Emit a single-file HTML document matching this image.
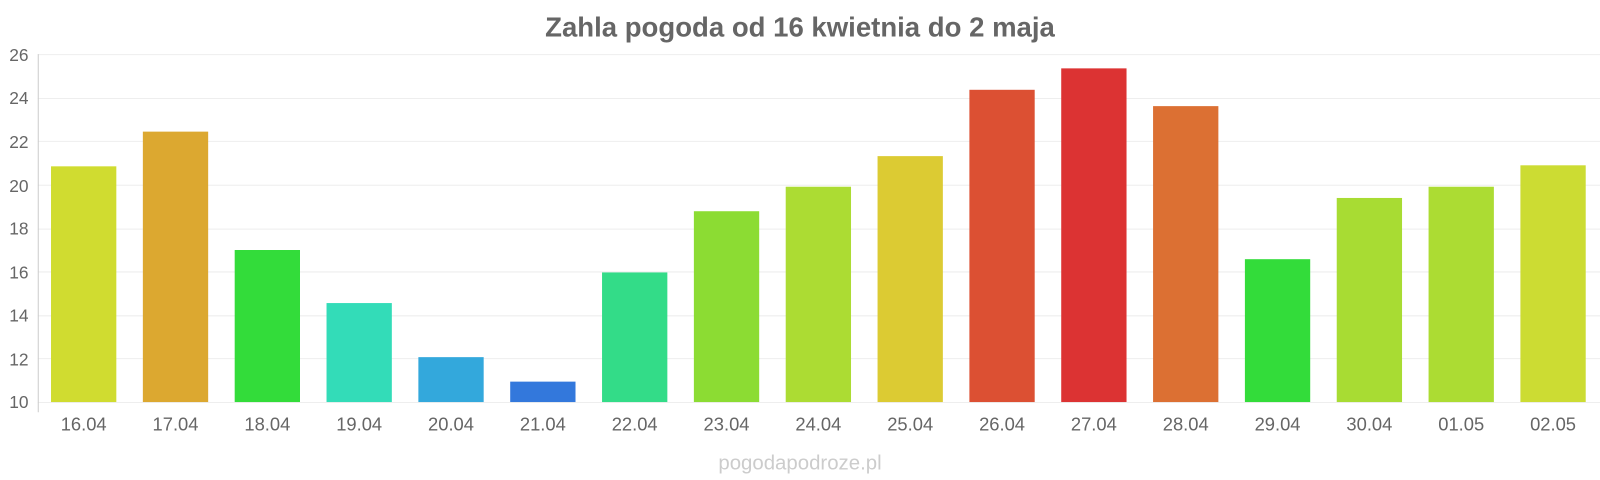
<!DOCTYPE html>
<html><head><meta charset="utf-8"><style>
html,body{margin:0;padding:0;background:#fff;}
svg{display:block;font-family:"Liberation Sans",sans-serif;}
</style></head><body>
<svg width="1600" height="480" viewBox="0 0 1568 470.4" preserveAspectRatio="none" xmlns="http://www.w3.org/2000/svg">
<text x="784" y="36" text-anchor="middle" font-size="27" font-weight="bold" fill="#666">Zahla pogoda od 16 kwietnia do 2 maja</text>
<g stroke="#eee" stroke-width="1">
<line x1="37" x2="1568" y1="53.5" y2="53.5"/>
<line x1="37" x2="1568" y1="96.5" y2="96.5"/>
<line x1="37" x2="1568" y1="138.5" y2="138.5"/>
<line x1="37" x2="1568" y1="181.5" y2="181.5"/>
<line x1="37" x2="1568" y1="224.5" y2="224.5"/>
<line x1="37" x2="1568" y1="266.5" y2="266.5"/>
<line x1="37" x2="1568" y1="309.5" y2="309.5"/>
<line x1="37" x2="1568" y1="351.5" y2="351.5"/>
<line x1="37" x2="1568" y1="394.5" y2="394.5"/>
</g>
<line x1="37.5" x2="37.5" y1="53" y2="404" stroke="#ccc"/>
<g font-size="17" fill="#666" text-anchor="end">
<text x="28" y="60">26</text><text x="28" y="102">24</text><text x="28" y="145">22</text>
<text x="28" y="188">20</text><text x="28" y="230">18</text><text x="28" y="273">16</text>
<text x="28" y="315">14</text><text x="28" y="358">12</text><text x="28" y="400">10</text>
</g>
<g>
<rect x="50" y="163" width="64" height="231" fill="#d0dc30"/>
<rect x="140" y="129" width="64" height="265" fill="#dca830"/>
<rect x="230" y="245" width="64" height="149" fill="#33dc3a"/>
<rect x="320" y="297" width="64" height="97" fill="#33dcb8"/>
<rect x="410" y="350" width="64" height="44" fill="#33a8dc"/>
<rect x="500" y="374" width="64" height="20" fill="#3378dc"/>
<rect x="590" y="267" width="64" height="127" fill="#33dc88"/>
<rect x="680" y="207" width="64" height="187" fill="#8cdc33"/>
<rect x="770" y="183" width="64" height="211" fill="#acdc33"/>
<rect x="860" y="153" width="64" height="241" fill="#dccb33"/>
<rect x="950" y="88" width="64" height="306" fill="#dc5033"/>
<rect x="1040" y="67" width="64" height="327" fill="#dc3333"/>
<rect x="1130" y="104" width="64" height="290" fill="#dc7033"/>
<rect x="1220" y="254" width="64" height="140" fill="#33dc3a"/>
<rect x="1310" y="194" width="64" height="200" fill="#a8dc33"/>
<rect x="1400" y="183" width="64" height="211" fill="#acdc33"/>
<rect x="1490" y="162" width="64" height="232" fill="#ccdc33"/>
</g>
<g font-size="18" fill="#666" text-anchor="middle">
<text x="82" y="422">16.04</text><text x="172" y="422">17.04</text><text x="262" y="422">18.04</text>
<text x="352" y="422">19.04</text><text x="442" y="422">20.04</text><text x="532" y="422">21.04</text>
<text x="622" y="422">22.04</text><text x="712" y="422">23.04</text><text x="802" y="422">24.04</text>
<text x="892" y="422">25.04</text><text x="982" y="422">26.04</text><text x="1072" y="422">27.04</text>
<text x="1162" y="422">28.04</text><text x="1252" y="422">29.04</text><text x="1342" y="422">30.04</text>
<text x="1432" y="422">01.05</text><text x="1522" y="422">02.05</text>
</g>
<text x="784" y="460" text-anchor="middle" font-size="20" fill="#ccc">pogodapodroze.pl</text>
</svg>
</body></html>
